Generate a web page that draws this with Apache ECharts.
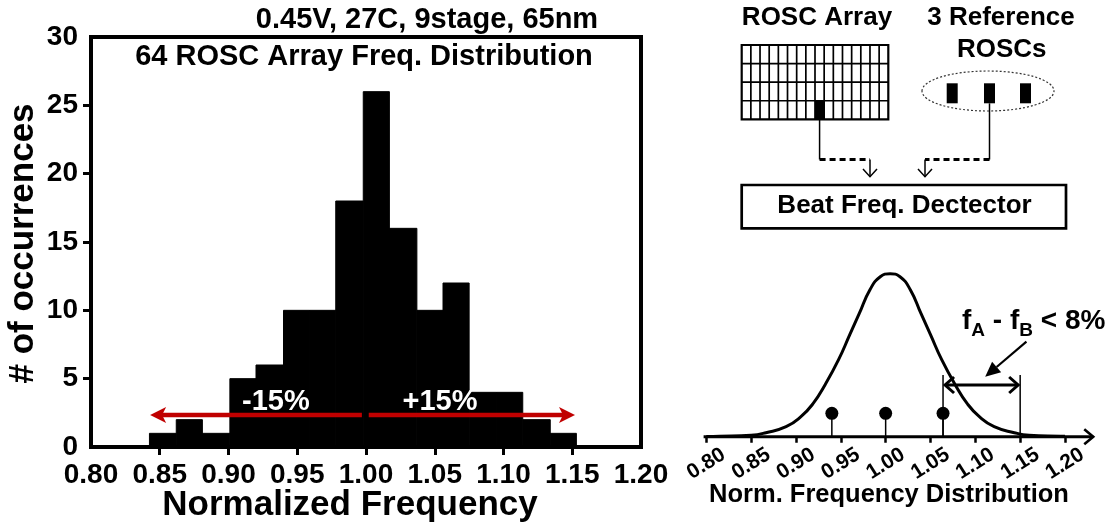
<!DOCTYPE html>
<html>
<head>
<meta charset="utf-8">
<script src="https://cdn.jsdelivr.net/npm/echarts@6/dist/echarts.min.js"></script>
<style>
  html, body { margin: 0; padding: 0; background: #fff; }
  #main { width: 1118px; height: 525px; }
</style>
</head>
<body>
<div id="main"></div>
<script>
// ---- Histogram: 64 ROSC array, normalized frequency ----
const binEdges = [0.8425, 0.862, 0.881, 0.901, 0.920, 0.940, 0.959, 0.978, 0.998,
                  1.017, 1.037, 1.056, 1.075, 1.095, 1.114, 1.134, 1.153];
const binCounts = [1, 2, 1, 5, 6, 10, 10, 18, 26, 16, 10, 12, 4, 4, 2, 1];
const freqLabels = [0.80, 0.85, 0.90, 0.95, 1.00, 1.05, 1.10, 1.15, 1.20];
const freqTicks = [0.85, 0.90, 0.95, 1.00, 1.05, 1.10, 1.15];
const countLabels = [0, 5, 10, 15, 20, 25, 30];
const countTicks = [5, 10, 15, 20, 25];
// ±15 % spread marker
const spreadLevel = 2.35;
const spreadLeft = [0.843, 0.997];
const spreadRight = [1.002, 1.152];
const spreadText = [['-15%', 0.9345], ['+15%', 1.0538]];

// ---- Distribution sketch with the reference oscillators ----
const curveX = [0.800, 0.815, 0.850, 0.8665, 0.889, 0.9055, 0.919, 0.9325, 0.9475, 0.960,
                0.9705, 0.9825, 0.994, 1.005, 1.016, 1.0275, 1.0395, 1.050, 1.0625, 1.0775,
                1.091, 1.1045, 1.121, 1.1435, 1.160, 1.195, 1.200];
const curveY = [0.3, 0.5, 1.5, 4, 10, 20, 33, 52, 77, 102,
                123, 147, 160, 163, 160, 147, 123, 102, 77, 52,
                33, 20, 10, 4, 1.5, 0.5, 0.4];
const refOsc = [0.94, 1.00, 1.064];
const refLevel = 23.4;
const fB = 1.064, fA = 1.15;
const guideTop = 61.7;
const spanLevel = 51.7;
const calloutFrom = [1.157, 95], calloutTo = [1.111, 60];
const normLabels = [0.80, 0.85, 0.90, 0.95, 1.00, 1.05, 1.10, 1.15, 1.20];

const FONT = '"Liberation Sans", Arial, Helvetica, sans-serif';
const chart = echarts.init(document.getElementById('main'));

const histData = binCounts.map((c, i) => [binEdges[i], binEdges[i + 1], c]);
const curveData = curveX.map((x, i) => [x, curveY[i]]);

const boldTxt = (size) => ({ color: '#000', fontFamily: FONT, fontWeight: 'bold', fontSize: size });

chart.setOption({
  animation: false,
  grid: [
    { left: 91, top: 37, width: 550, height: 410, show: true, borderColor: '#000', borderWidth: 4, backgroundColor: 'transparent' },
    { left: 706.3, top: 256.7, width: 358.7, height: 180, show: false }
  ],
  xAxis: [
    {
      gridIndex: 0, type: 'value', min: 0.8, max: 1.2, interval: 0.05,
      axisLine: { show: false }, splitLine: { show: false },
      axisTick: { show: true, customValues: freqTicks, length: 8, lineStyle: { color: '#000', width: 3 } },
      axisLabel: Object.assign({ customValues: freqLabels, formatter: v => v.toFixed(2), margin: 14 }, boldTxt(28))
    },
    {
      gridIndex: 1, type: 'value', min: 0.8, max: 1.2, interval: 0.05,
      axisLine: { show: false }, splitLine: { show: false },
      axisTick: { show: true, customValues: normLabels, length: 6, lineStyle: { color: '#000', width: 2.5 } },
      axisLabel: Object.assign({
        customValues: normLabels, formatter: v => v.toFixed(2), rotate: 32,
        align: 'center', verticalAlign: 'middle', margin: 27
      }, boldTxt(21))
    }
  ],
  yAxis: [
    {
      gridIndex: 0, type: 'value', min: 0, max: 30, interval: 5,
      axisLine: { show: false }, splitLine: { show: false },
      axisTick: { show: true, customValues: countTicks, length: 8, lineStyle: { color: '#000', width: 3 } },
      axisLabel: Object.assign({ customValues: countLabels, margin: 13 }, boldTxt(28))
    },
    { gridIndex: 1, type: 'value', min: 0, max: 180, show: false }
  ],
  series: [
    {
      type: 'custom', xAxisIndex: 0, yAxisIndex: 0, data: histData,
      encode: { x: [0, 1], y: 2 },
      renderItem: (params, api) => {
        const a = api.coord([api.value(0), api.value(2)]);
        const b = api.coord([api.value(1), 0]);
        return {
          type: 'rect',
          shape: { x: a[0], y: a[1], width: b[0] - a[0], height: b[1] - a[1] },
          style: { fill: '#000', stroke: '#000', lineWidth: 1 }
        };
      }
    },
    {
      type: 'line', xAxisIndex: 1, yAxisIndex: 1, data: curveData,
      smooth: 0.5, showSymbol: false, clip: false,
      lineStyle: { color: '#000', width: 3 }
    },
    {
      type: 'scatter', xAxisIndex: 1, yAxisIndex: 1, symbolSize: 13,
      data: refOsc.map(x => [x, refLevel]), itemStyle: { color: '#000', opacity: 1 }, z: 5
    }
  ]
});

// ---- annotations placed through the axes ----
const P = (g, x, y) => chart.convertToPixel({ gridIndex: g }, [x, y]);

function headPoints(tip, from, len, half, notch) {
  const dx = tip[0] - from[0], dy = tip[1] - from[1];
  const d = Math.hypot(dx, dy), ux = dx / d, uy = dy / d;
  const bx = tip[0] - ux * len, by = tip[1] - uy * len;
  return [tip, [bx - uy * half, by + ux * half], [tip[0] - ux * len * (1 - notch), tip[1] - uy * len * (1 - notch)], [bx + uy * half, by - ux * half]];
}
const line = (a, b, w, extra) => Object.assign({ type: 'line', shape: { x1: a[0], y1: a[1], x2: b[0], y2: b[1] }, style: { stroke: '#000', lineWidth: w } }, extra || {});
const txt = (s, x, y, size, opt) => ({
  type: 'text', x: x, y: y, z: 20,
  style: Object.assign({ text: s, fill: '#000', font: 'bold ' + size + 'px ' + FONT, align: 'center', verticalAlign: 'middle' }, opt || {})
});

const g = [];
const RED = '#c00000';

// spread arrows on the histogram
{
  const l0 = P(0, spreadLeft[0], spreadLevel), l1 = P(0, spreadLeft[1], spreadLevel);
  const r0 = P(0, spreadRight[0], spreadLevel), r1 = P(0, spreadRight[1], spreadLevel);
  g.push({ type: 'line', z: 10, shape: { x1: l0[0] + 10, y1: l0[1], x2: l1[0], y2: l1[1] }, style: { stroke: RED, lineWidth: 4.5 } });
  g.push({ type: 'line', z: 10, shape: { x1: r0[0], y1: r0[1], x2: r1[0] - 10, y2: r1[1] }, style: { stroke: RED, lineWidth: 4.5 } });
  g.push({ type: 'polygon', z: 11, shape: { points: headPoints(l0, l1, 16, 8, 0.25) }, style: { fill: RED } });
  g.push({ type: 'polygon', z: 11, shape: { points: headPoints(r1, r0, 16, 8, 0.25) }, style: { fill: RED } });
  spreadText.forEach(([s, x]) => {
    const p = P(0, x, spreadLevel);
    g.push(txt(s, p[0], p[1] - 13, 29, { fill: '#fff' }));
  });
}

// histogram titles
g.push(txt('0.45V, 27C, 9stage, 65nm', 427, 20, 29));
g.push(txt('64 ROSC Array Freq. Distribution', 364, 57, 29));
g.push(txt('Normalized Frequency', 350, 505, 35));
g.push(Object.assign(txt('# of occurrences', 0, 0, 35), { x: 23, y: 243.5, rotation: Math.PI / 2 }));

// ---- schematic: ROSC array, reference ROSCs, beat frequency detector ----
{
  const gx = 741.7, gy = 45, gw = 146.6, gh = 74.3, cols = 16, rows = 4;
  const cw = gw / cols, ch = gh / rows;
  g.push({ type: 'rect', shape: { x: gx + 8 * cw, y: gy + 3 * ch, width: cw, height: ch }, style: { fill: '#000' } });
  for (let i = 1; i < cols; i++) g.push(line([gx + i * cw, gy], [gx + i * cw, gy + gh], 1.7));
  for (let j = 1; j < rows; j++) g.push(line([gx, gy + j * ch], [gx + gw, gy + j * ch], 1.7));
  g.push({ type: 'rect', shape: { x: gx, y: gy, width: gw, height: gh }, style: { fill: 'none', stroke: '#000', lineWidth: 2.2 } });

  g.push({ type: 'ellipse', shape: { cx: 988, cy: 91, rx: 66, ry: 20 }, style: { fill: 'none', stroke: '#333', lineWidth: 1.2, lineDash: [2, 2] } });
  [946.7, 984, 1020].forEach(x => g.push({ type: 'rect', shape: { x: x, y: 83.3, width: 11, height: 20 }, style: { fill: '#000' } }));

  const cellX = gx + 8.5 * cw;
  g.push(line([cellX, gy + gh], [cellX, 159.5], 1.5));
  g.push(line([cellX, 159.5], [870, 159.5], 3, { style: { stroke: '#000', lineWidth: 3, lineDash: [6, 4] } }));
  g.push(line([989.5, 103.3], [989.5, 159.5], 1.5));
  g.push(line([989.5, 159.5], [925, 159.5], 3, { style: { stroke: '#000', lineWidth: 3, lineDash: [6, 4] } }));
  [870, 925].forEach(x => {
    g.push(line([x, 159.5], [x, 176.7], 1.5));
    g.push({ type: 'polyline', shape: { points: [[x - 7, 169], [x, 176.7], [x + 7, 169]] }, style: { stroke: '#000', lineWidth: 1.5, fill: 'none' } });
  });
  g.push({ type: 'rect', shape: { x: 741.7, y: 185, width: 324.3, height: 43.3 }, style: { fill: 'none', stroke: '#000', lineWidth: 2.7 } });

  g.push(txt('ROSC Array', 817, 17.5, 26));
  g.push(txt('3 Reference', 1001, 17.5, 26));
  g.push(txt('ROSCs', 1001.7, 50, 26));
  g.push(txt('Beat Freq. Dectector', 904.5, 206, 26));
}

// ---- distribution sketch annotations ----
{
  const a0 = P(1, 0.797, 0), a1 = P(1, 1.2315, 0);
  g.push(line(a0, a1, 3));
  g.push({ type: 'polyline', shape: { points: [[a1[0] - 9, a1[1] - 7.5], [a1[0], a1[1]], [a1[0] - 9, a1[1] + 7.5]] }, style: { stroke: '#000', lineWidth: 2.6, fill: 'none' } });

  refOsc.forEach(x => g.push(line(P(1, x, 0), P(1, x, refLevel), 1.5)));
  g.push(line(P(1, fB, 0), P(1, fB, guideTop), 1.5));
  g.push(line(P(1, fA, 0), P(1, fA, guideTop), 1.5));

  const s0 = P(1, fB, spanLevel), s1 = P(1, fA, spanLevel);
  g.push(line([s0[0] + 2, s0[1]], [s1[0] - 2, s1[1]], 3));
  g.push({ type: 'polyline', shape: { points: [[s0[0] + 11, s0[1] - 8], [s0[0] + 2, s0[1]], [s0[0] + 11, s0[1] + 8]] }, style: { stroke: '#000', lineWidth: 3, fill: 'none' } });
  g.push({ type: 'polyline', shape: { points: [[s1[0] - 11, s1[1] - 8], [s1[0] - 2, s1[1]], [s1[0] - 11, s1[1] + 8]] }, style: { stroke: '#000', lineWidth: 3, fill: 'none' } });

  const c0 = P(1, calloutFrom[0], calloutFrom[1]), c1 = P(1, calloutTo[0], calloutTo[1]);
  const hp = headPoints(c1, c0, 15, 7, 0);
  const back = [(hp[1][0] + hp[3][0]) / 2, (hp[1][1] + hp[3][1]) / 2];
  g.push(line(c0, back, 2.2));
  g.push({ type: 'polygon', shape: { points: hp }, style: { fill: '#000' } });

  g.push({
    type: 'text', x: 962, y: 321, z: 20,
    style: {
      text: '{m|f}{s|A}{m| - f}{s|B}{m| < 8%}',
      align: 'left', verticalAlign: 'middle',
      rich: {
        m: { fontFamily: FONT, fontWeight: 'bold', fontSize: 28, lineHeight: 28, verticalAlign: 'top', fill: '#000' },
        s: { fontFamily: FONT, fontWeight: 'bold', fontSize: 19, lineHeight: 15, padding: [14, 0, 0, 0], verticalAlign: 'top', fill: '#000' }
      }
    }
  });
  g.push(txt('Norm. Frequency Distribution', 889, 495, 25.5));
}

chart.setOption({ graphic: { elements: g } });
</script>
</body>
</html>
